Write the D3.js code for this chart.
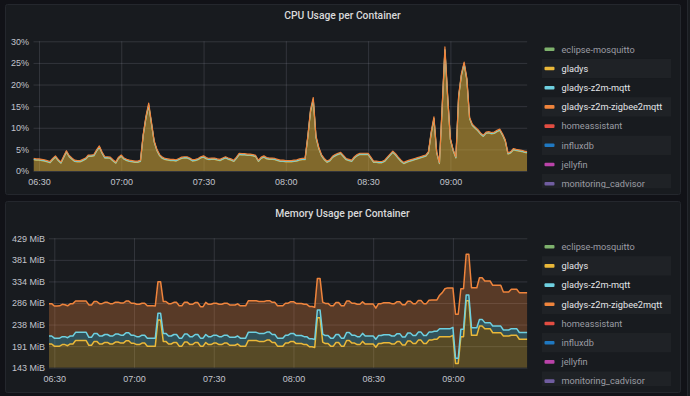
<!DOCTYPE html>
<html>
<head>
<meta charset="utf-8">
<script src="https://cdn.jsdelivr.net/npm/d3@7"></script>
<style>
  html, body { margin: 0; padding: 0; background: #111217; }
  svg { display: block; font-family: Roboto, Inter, 'Noto Sans', sans-serif; }
</style>
</head>
<body>
<div class="chart"></div>
<script>
// DATA
// ----------------------------
// one sample per minute, starting 06:28
const startTime = new Date(2021, 0, 1, 6, 28)
const stepMinutes = 1

const legendNames = [
  'eclipse-mosquitto', 'gladys', 'gladys-z2m-mqtt', 'gladys-z2m-zigbee2mqtt',
  'homeassistant', 'influxdb', 'jellyfin', 'monitoring_cadvisor'
]
const legendColors = ['#7EB26D', '#EAB839', '#6ED0E0', '#EF843C', '#E24D42', '#1F78C1', '#BA43A9', '#705DA0']
const shownSeries = ['gladys', 'gladys-z2m-mqtt', 'gladys-z2m-zigbee2mqtt']

// CPU, percent
const cpuGladys = [
  2.6, 2.5, 2.5, 2.4, 2.3, 2.1, 1.9, 2.6, 3.2, 2.4,
  1.8, 3.1, 4.4, 3.3, 2.7, 2.2, 2.1, 2.1, 2.4, 2.7,
  3.4, 3.4, 3.5, 4.6, 5.5, 4.1, 3.0, 3.0, 2.9, 2.3,
  1.8, 2.9, 3.4, 2.7, 2.4, 2.2, 2.1, 2.0, 2.0, 2.2,
  8.2, 12.2, 15.1, 10.9, 6.7, 4.7, 3.5, 2.9, 2.6, 2.5,
  2.4, 2.4, 2.3, 2.6, 2.9, 3.0, 3.0, 2.7, 2.3, 2.4,
  2.6, 3.0, 3.2, 2.8, 2.6, 2.7, 2.7, 2.5, 2.4, 2.7,
  3.0, 2.7, 2.5, 2.2, 2.9, 3.8, 3.7, 3.7, 3.6, 3.6,
  3.5, 3.3, 2.2, 2.9, 3.2, 2.8, 2.7, 2.7, 2.6, 2.4,
  2.2, 2.2, 2.1, 2.1, 2.1, 2.2, 2.3, 2.5, 2.6, 2.6,
  7.7, 13.7, 16.4, 7.7, 5.2, 3.5, 2.6, 2.0, 2.3, 3.1,
  3.5, 3.8, 4.0, 3.3, 2.6, 2.4, 2.2, 3.0, 3.5, 3.8,
  3.8, 3.8, 3.8, 2.9, 2.0, 2.0, 1.9, 1.9, 2.2, 2.9,
  3.6, 4.3, 3.7, 2.9, 2.2, 1.7, 2.0, 2.2, 2.4, 2.6,
  2.8, 3.0, 3.2, 3.4, 4.2, 8.6, 12.0, 4.2, 1.7, 14.5,
  27.9, 17.0, 7.2, 4.7, 3.0, 17.0, 22.0, 24.7, 21.0, 12.1,
  10.5, 9.9, 9.3, 8.5, 8.0, 8.7, 8.8, 8.6, 8.7, 9.1,
  9.4, 8.3, 6.9, 3.9, 4.2, 4.9, 4.7, 4.6, 4.5, 4.3, 4.2
]
const cpuMqtt = [
  0.1, 0.1, 0.1, 0.1, 0.1, 0.1, 0.1, 0.1, 0.1, 0.1,
  0.1, 0.1, 0.1, 0.1, 0.1, 0.1, 0.1, 0.1, 0.1, 0.1,
  0.1, 0.1, 0.1, 0.1, 0.1, 0.1, 0.1, 0.1, 0.1, 0.1,
  0.1, 0.1, 0.1, 0.1, 0.1, 0.1, 0.1, 0.1, 0.1, 0.1,
  0.1, 0.2, 0.2, 0.2, 0.1, 0.1, 0.1, 0.1, 0.1, 0.1,
  0.1, 0.1, 0.1, 0.1, 0.1, 0.1, 0.1, 0.1, 0.1, 0.1,
  0.1, 0.1, 0.1, 0.1, 0.1, 0.1, 0.1, 0.1, 0.1, 0.1,
  0.1, 0.1, 0.1, 0.1, 0.1, 0.1, 0.1, 0.1, 0.1, 0.1,
  0.1, 0.1, 0.1, 0.1, 0.1, 0.1, 0.1, 0.1, 0.1, 0.1,
  0.1, 0.1, 0.1, 0.1, 0.1, 0.1, 0.1, 0.1, 0.1, 0.1,
  0.1, 0.2, 0.2, 0.1, 0.1, 0.1, 0.1, 0.1, 0.1, 0.1,
  0.1, 0.1, 0.1, 0.1, 0.1, 0.1, 0.1, 0.1, 0.1, 0.1,
  0.1, 0.1, 0.1, 0.1, 0.1, 0.1, 0.1, 0.1, 0.1, 0.1,
  0.1, 0.1, 0.1, 0.1, 0.1, 0.1, 0.1, 0.1, 0.1, 0.1,
  0.1, 0.1, 0.1, 0.1, 0.1, 0.2, 0.2, 0.1, 0.1, 0.2,
  0.2, 0.2, 0.1, 0.1, 0.1, 0.2, 0.2, 0.2, 0.2, 0.1,
  0.1, 0.1, 0.1, 0.1, 0.1, 0.1, 0.1, 0.1, 0.1, 0.1,
  0.1, 0.1, 0.1, 0.1, 0.1, 0.1, 0.1, 0.1, 0.1, 0.1, 0.1
]
const cpuZigbee = [
  0.2, 0.2, 0.2, 0.2, 0.2, 0.2, 0.2, 0.2, 0.2, 0.2,
  0.2, 0.2, 0.2, 0.2, 0.2, 0.2, 0.2, 0.2, 0.2, 0.2,
  0.2, 0.2, 0.2, 0.2, 0.2, 0.2, 0.2, 0.2, 0.2, 0.2,
  0.2, 0.2, 0.2, 0.2, 0.2, 0.2, 0.2, 0.2, 0.2, 0.2,
  0.2, 0.3, 0.4, 0.3, 0.2, 0.2, 0.2, 0.2, 0.2, 0.2,
  0.2, 0.2, 0.2, 0.2, 0.2, 0.2, 0.2, 0.2, 0.2, 0.2,
  0.2, 0.2, 0.2, 0.2, 0.2, 0.2, 0.2, 0.2, 0.2, 0.2,
  0.2, 0.2, 0.2, 0.2, 0.2, 0.2, 0.2, 0.2, 0.2, 0.2,
  0.2, 0.2, 0.2, 0.2, 0.2, 0.2, 0.2, 0.2, 0.2, 0.2,
  0.2, 0.2, 0.2, 0.2, 0.2, 0.2, 0.2, 0.2, 0.2, 0.2,
  0.2, 0.3, 0.4, 0.3, 0.2, 0.2, 0.2, 0.2, 0.2, 0.2,
  0.2, 0.2, 0.2, 0.2, 0.2, 0.2, 0.2, 0.2, 0.2, 0.2,
  0.2, 0.2, 0.2, 0.2, 0.2, 0.2, 0.2, 0.2, 0.2, 0.2,
  0.2, 0.2, 0.2, 0.2, 0.2, 0.2, 0.2, 0.2, 0.2, 0.2,
  0.2, 0.2, 0.2, 0.2, 0.2, 0.3, 0.3, 0.2, 0.2, 0.3,
  0.6, 0.3, 0.2, 0.2, 0.2, 0.3, 0.3, 0.3, 0.3, 0.2,
  0.2, 0.2, 0.2, 0.2, 0.2, 0.2, 0.2, 0.2, 0.2, 0.2,
  0.2, 0.2, 0.2, 0.2, 0.2, 0.2, 0.2, 0.2, 0.2, 0.2, 0.2
]

// memory, MB (1e6 bytes)
const memGladys = [
  205, 205, 200, 200, 200, 203.5, 203.5, 201, 205, 205,
  213, 213, 213, 213, 213, 202, 202, 211, 211, 205,
  205, 208.5, 208.5, 205, 205, 209.5, 209.5, 207, 207, 212.5,
  212.5, 206.5, 206.5, 203.5, 203.5, 207, 207, 200, 200, 200,
  200, 260.5, 260.5, 211, 211, 205, 205, 208.5, 208.5, 200,
  200, 209.5, 209.5, 203.5, 203.5, 208.5, 208.5, 200, 200, 208.5,
  203.5, 203.5, 207, 207, 203.5, 203.5, 207, 207, 202, 202,
  202, 205, 200, 200, 200, 213, 213, 213, 213, 211,
  211, 211, 214, 214, 208.5, 208.5, 200, 200, 200, 207,
  207, 211, 211, 206, 206, 206, 203.5, 203.5, 198.5, 198.5,
  197, 266, 266, 209.5, 206, 206, 200, 200, 208.5, 208.5,
  200, 200, 213, 213, 207, 207, 203.5, 203.5, 211, 205,
  205, 205, 205, 197.5, 206, 206, 208, 208, 208, 205,
  205, 210.5, 210.5, 202.5, 202.5, 212, 212, 206, 206, 214,
  214, 206, 206, 214, 214, 216, 216, 222, 222, 222,
  222, 222, 225, 160, 160, 222, 222, 305, 305, 225,
  225, 225, 246.5, 246.5, 240.5, 240.5, 240.5, 231, 231, 231,
  231, 223.5, 223.5, 223.5, 225, 225, 225, 216, 216, 216, 216
]
const memMqtt = [
  18.5, 18.5, 18.5, 18.5, 18.5, 18.5, 18.5, 18.5, 18.5, 18.5,
  19, 19, 19, 19, 19, 18.5, 18.5, 18.5, 18.5, 18.5,
  18.5, 18.5, 18.5, 18.5, 18.5, 18.5, 18.5, 18.5, 18.5, 18.5,
  18.5, 18.5, 18.5, 18.5, 18.5, 18.5, 18.5, 18.5, 18.5, 18.5,
  18.5, 15.5, 15.5, 18.5, 18.5, 18.5, 18.5, 18.5, 18.5, 18.5,
  18.5, 18.5, 18.5, 18.5, 18.5, 18.5, 18.5, 18.5, 18.5, 18.5,
  18.5, 18.5, 18.5, 18.5, 18.5, 18.5, 18.5, 18.5, 18.5, 18.5,
  18.5, 18.5, 18.5, 18.5, 18.5, 19, 19, 19, 19, 18.5,
  18.5, 18.5, 18.5, 18.5, 18.5, 18.5, 18.5, 18.5, 18.5, 18.5,
  18.5, 18.5, 18.5, 18.5, 18.5, 18.5, 18.5, 18.5, 18.5, 18.5,
  18.5, 18, 18, 18.5, 18.5, 18.5, 18.5, 18.5, 18.5, 18.5,
  18.5, 18.5, 18.5, 18.5, 18.5, 18.5, 18.5, 18.5, 18.5, 18.5,
  18.5, 18.5, 18.5, 18.5, 18.5, 18.5, 18.5, 18.5, 18.5, 18.5,
  18.5, 18.5, 18.5, 18.5, 18.5, 18.5, 18.5, 18.5, 18.5, 18.5,
  18.5, 18.5, 18.5, 18.5, 18.5, 18.5, 18.5, 18.5, 18.5, 18.5,
  18.5, 18.5, 18.5, 12, 12, 17, 17, 13.5, 13.5, 17.5,
  17.5, 17.5, 15.5, 15.5, 14, 14, 14, 15.5, 15.5, 15.5,
  15.5, 14, 14, 14, 15.5, 15.5, 15.5, 15.5, 15.5, 15.5, 15.5
]
const memZigbee = [
  75, 75, 74.5, 74.5, 75, 75, 74, 74, 74.5, 75,
  72.5, 72.5, 72.5, 72.5, 72.5, 75, 75, 74, 74, 75,
  75, 74.5, 74.5, 75, 75, 74, 74, 74.5, 74.5, 73.5,
  73.5, 74.5, 74.5, 75, 75, 74, 74, 75, 75, 75,
  74.5, 73, 73, 74, 74, 75, 75, 74.5, 74.5, 75,
  75, 74, 74, 75, 75, 74, 74, 73, 73, 74.5,
  75, 75, 74, 74, 75, 75, 74, 74, 75, 75,
  75, 74.5, 75, 75, 75, 73, 73, 73, 73, 74,
  74, 74, 73, 73, 74.5, 74.5, 75, 75, 75, 74,
  74, 73.5, 73.5, 74.5, 74.5, 74.5, 75, 75, 75, 75,
  74.5, 73, 73, 74, 74.5, 74.5, 75, 75, 74, 74,
  75, 75, 73, 73, 74, 74, 75, 75, 73.5, 74,
  74, 74, 74, 72, 74, 74, 74, 74, 74, 75,
  75, 74, 74, 75, 75, 73.5, 73.5, 74, 74, 73.5,
  73.5, 74, 74, 74, 74.5, 72.5, 72.5, 77.5, 83.5, 92.5,
  94.5, 94.5, 91.5, 102, 102, 94, 94, 94.5, 94.5, 93,
  93, 93, 96.5, 96.5, 96.5, 96.5, 96.5, 94.5, 94.5, 94.5,
  94.5, 88, 88, 88, 91.5, 91.5, 91.5, 92.5, 92.5, 92.5, 92.5
]

const cpuTicks = [0, 5, 10, 15, 20, 25, 30]
const memTicks = [150, 200, 250, 300, 350, 400, 450] // MB, shown as MiB
// ----------------------------
// [END] DATA


// SETUP
// ----------------------------
const fullWidth = 690
const fullHeight = 396
const gridColor = 'rgba(204, 204, 220, 0.15)'
const labelColor = '#c2c4cc'

const svg = d3.select('.chart')
  .append('svg')
    .attr('width', fullWidth)
    .attr('height', fullHeight)

svg.append('rect')
  .attr('width', fullWidth)
  .attr('height', fullHeight)
  .attr('fill', '#111217')

// edge of the next panel on the right
svg.append('rect')
  .attr('x', 687.5).attr('y', -2)
  .attr('width', 20).attr('height', fullHeight + 4)
  .attr('fill', '#181b1f')
  .attr('stroke', '#24272d')

const times = cpuGladys.map((d, i) => d3.timeMinute.offset(startTime, i * stepMinutes))
// ----------------------------
// [END] SETUP


// PANEL
// ----------------------------
function drawPanel (cfg) {
  const g = svg.append('g')
  const { left, right, top, bottom } = cfg.plot

  g.append('rect')
    .attr('x', cfg.box.x + 0.5)
    .attr('y', cfg.box.y + 0.5)
    .attr('width', cfg.box.w)
    .attr('height', cfg.box.h)
    .attr('rx', 2)
    .attr('fill', '#181b1f')
    .attr('stroke', '#24272d')

  g.append('text')
    .attr('x', cfg.box.x + cfg.box.w / 2)
    .attr('y', cfg.titleY)
    .attr('text-anchor', 'middle')
    .attr('fill', '#d8d9da')
    .attr('font-size', 10.3)
    .attr('font-weight', 500)
    .text(cfg.title)

  const xScale = d3.scaleTime()
    .domain([times[0], times[times.length - 1]])
    .range([left, right])
  const yScale = d3.scaleLinear()
    .domain(cfg.yDomain)
    .range([bottom, top])
    .clamp(true)

  // grid + y labels
  const yAxis = d3.axisLeft(yScale)
    .tickValues(cfg.yTicks)
    .tickFormat(cfg.yFormat)
    .tickSize(-(right - left))
    .tickPadding(cfg.yPad)
  g.append('g')
    .attr('transform', `translate(${left}, 0)`)
    .call(yAxis)
    .call(a => a.select('.domain').remove())
    .call(a => a.selectAll('line').attr('stroke', gridColor))
    .call(a => a.selectAll('text').attr('fill', labelColor).attr('font-size', 9).attr('font-family', null))

  // grid + x labels
  const xAxis = d3.axisBottom(xScale)
    .ticks(d3.timeMinute.every(30))
    .tickFormat(d3.timeFormat('%H:%M'))
    .tickSize(-(bottom - top))
    .tickPadding(8)
  g.append('g')
    .attr('transform', `translate(0, ${bottom})`)
    .call(xAxis)
    .call(a => a.select('.domain').remove())
    .call(a => a.selectAll('line').attr('stroke', gridColor))
    .call(a => a.selectAll('text').attr('fill', labelColor).attr('font-size', 9).attr('font-family', null))

  // stacked series
  const keys = shownSeries
  const rows = times.map((t, i) => {
    const row = { time: t }
    keys.forEach((k, j) => { row[k] = cfg.series[j][i] })
    return row
  })
  const layers = d3.stack().keys(keys)(rows)

  const clipId = 'clip-' + cfg.id
  g.append('clipPath').attr('id', clipId)
    .append('rect')
    .attr('x', left).attr('y', top - 2)
    .attr('width', right - left).attr('height', bottom - top + 2)

  const area = d3.area()
    .x(d => xScale(d.data.time))
    .y0(d => yScale(d[0]))
    .y1(d => yScale(d[1]))
  const line = d3.line()
    .x(d => xScale(d.data.time))
    .y(d => yScale(d[1]))

  const plot = g.append('g').attr('clip-path', `url(#${clipId})`)
  const colorOf = k => legendColors[legendNames.indexOf(k)]

  plot.selectAll('path.fill')
    .data(layers)
    .enter()
    .append('path')
    .attr('class', 'fill')
    .attr('d', area)
    .attr('fill', d => colorOf(d.key))
    .attr('fill-opacity', cfg.fillOpacity)

  plot.selectAll('path.line')
    .data(layers)
    .enter()
    .append('path')
    .attr('class', 'line')
    .attr('d', line)
    .attr('fill', 'none')
    .attr('stroke', d => colorOf(d.key))
    .attr('stroke-width', cfg.lineWidth)
    .attr('stroke-linejoin', 'round')

  // legend
  const legClip = 'leg-' + cfg.id
  g.append('clipPath').attr('id', legClip)
    .append('rect')
    .attr('x', 530).attr('y', cfg.box.y)
    .attr('width', 150).attr('height', cfg.legendBottom - cfg.box.y)

  const legend = g.append('g').attr('clip-path', `url(#${legClip})`)
  const rowH = 19.2
  const item = legend.selectAll('g.item')
    .data(legendNames)
    .enter()
    .append('g')
    .attr('class', 'item')
    .attr('transform', (d, i) => `translate(0, ${cfg.legendY + i * rowH})`)

  item.filter((d, i) => i % 2 === 1)
    .append('rect')
    .attr('x', 542).attr('y', -rowH / 2)
    .attr('width', 129).attr('height', rowH)
    .attr('fill', 'rgba(204, 204, 220, 0.045)')

  item.append('rect')
    .attr('x', 544.5).attr('y', -1.8)
    .attr('width', 10).attr('height', 3.6)
    .attr('rx', 1)
    .attr('fill', (d, i) => legendColors[i])

  item.append('text')
    .attr('x', 561.5)
    .attr('dy', '0.35em')
    .attr('font-size', 9.2)
    .attr('fill', d => shownSeries.includes(d) ? '#e4e5e8' : '#9b9ca3')
    .text(d => d)
}
// ----------------------------
// [END] PANEL


drawPanel({
  id: 'cpu',
  title: 'CPU Usage per Container',
  box: { x: 5, y: 4, w: 675, h: 190 },
  titleY: 19,
  plot: { left: 33.5, right: 527.2, top: 41.3, bottom: 171 },
  yDomain: [0, 30],
  yTicks: cpuTicks,
  yFormat: d => d + '%',
  yPad: 4.5,
  series: [cpuGladys, cpuMqtt, cpuZigbee],
  fillOpacity: 0.5,
  lineWidth: 1.2,
  legendY: 49.3,
  legendBottom: 188.3
})

drawPanel({
  id: 'mem',
  title: 'Memory Usage per Container',
  box: { x: 5, y: 201, w: 675, h: 191 },
  titleY: 216.5,
  plot: { left: 49, right: 527.3, top: 238.3, bottom: 367.7 },
  yDomain: [150, 450],
  yTicks: memTicks,
  yFormat: d => Math.round(d * 1e6 / 1048576) + ' MiB',
  yPad: 4,
  series: [memGladys, memMqtt, memZigbee],
  fillOpacity: 0.3,
  lineWidth: 1.5,
  legendY: 246.7,
  legendBottom: 386
})
</script>
</body>
</html>
